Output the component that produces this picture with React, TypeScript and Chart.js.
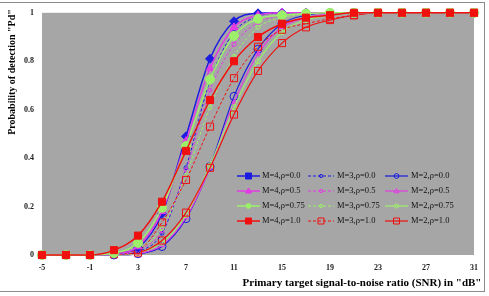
import React, { useEffect, useRef } from "react";
import { Chart, registerables } from "chart.js";

Chart.register(...registerables);

const snr = [-5, -3, -1, 1, 3, 5, 7, 9, 11, 13, 15, 17, 19, 21, 23, 25, 27, 29, 31];

const m4r00 = [0, 0, 0, 0.005, 0.03, 0.17, 0.49, 0.81, 0.965, 0.998, 1, 1, 1, 1, 1, 1, 1, 1, 1];
const m4r05 = [0, 0, 0, 0.005, 0.035, 0.18, 0.47, 0.77, 0.94, 0.99, 1, 1, 1, 1, 1, 1, 1, 1, 1];
const m4r075 = [0, 0, 0, 0.008, 0.05, 0.195, 0.45, 0.725, 0.905, 0.975, 0.99, 0.997, 1, 1, 1, 1, 1, 1, 1];
const m4r10 = [0, 0, 0, 0.02, 0.08, 0.22, 0.43, 0.64, 0.8, 0.9, 0.955, 0.98, 0.99, 1, 1, 1, 1, 1, 1];

const m3r00 = [0, 0, 0, 0.002, 0.015, 0.09, 0.36, 0.72, 0.92, 0.985, 1, 1, 1, 1, 1, 1, 1, 1, 1];
const m3r05 = [0, 0, 0, 0.002, 0.02, 0.1, 0.35, 0.68, 0.87, 0.96, 0.99, 1, 1, 1, 1, 1, 1, 1, 1];
const m3r075 = [0, 0, 0, 0.003, 0.025, 0.11, 0.33, 0.61, 0.82, 0.94, 0.98, 0.995, 1, 1, 1, 1, 1, 1, 1];
const m3r10 = [0, 0, 0, 0.01, 0.02, 0.135, 0.31, 0.53, 0.73, 0.86, 0.93, 0.955, 0.975, 0.99, 1, 1, 1, 1, 1];

const m2r00 = [0, 0, 0, 0, 0.005, 0.035, 0.15, 0.365, 0.655, 0.85, 0.955, 0.99, 1, 1, 1, 1, 1, 1, 1];
const m2r05 = [0, 0, 0, 0, 0.006, 0.04, 0.155, 0.36, 0.63, 0.83, 0.94, 0.98, 0.995, 1, 1, 1, 1, 1, 1];
const m2r075 = [0, 0, 0, 0, 0.008, 0.05, 0.165, 0.37, 0.61, 0.8, 0.92, 0.97, 0.99, 1, 1, 1, 1, 1, 1];
const m2r10 = [0, 0, 0, 0.003, 0.01, 0.06, 0.175, 0.36, 0.58, 0.76, 0.875, 0.94, 0.97, 0.99, 1, 1, 1, 1, 1];

const seriesLabels = [
  "M=4, ρ=0.0", "M=3, ρ=0.0", "M=2, ρ=0.0",
  "M=4, ρ=0.5", "M=3, ρ=0.5", "M=2, ρ=0.5",
  "M=4, ρ=0.75", "M=3, ρ=0.75", "M=2, ρ=0.75",
  "M=4, ρ=1.0", "M=3, ρ=1.0", "M=2, ρ=1.0",
];
const seriesValues = [
  m4r00, m3r00, m2r00,
  m4r05, m3r05, m2r05,
  m4r075, m3r075, m2r075,
  m4r10, m3r10, m2r10,
];

const yTitle = 'Probability of detection "Pd"';
const xTitle = 'Primary target signal-to-noise ratio (SNR) in "dB"';

const SERIF = "'Liberation Serif', 'Times New Roman', serif";
const BLUE = "#1c1ce0";
const MAGENTA = "#e23ce2";
const GREEN = "#9df06a";
const RED = "#f01010";
const colors = [BLUE, MAGENTA, GREEN, RED];

type Style = { shape: string; r: number; filled: boolean; dash: number[]; width: number; order: number };
function styleFor(i: number): Style {
  const m = i % 3; // 0:M=4 1:M=3 2:M=2
  const rho = Math.floor(i / 3);
  if (m === 0) {
    const shapes = ["rectRot", "triangle", "circle", "rect"];
    return { shape: shapes[rho], r: rho === 3 ? 5 : 4.5, filled: true, dash: [], width: 1.5, order: 10 - rho };
  }
  if (m === 1) {
    return { shape: rho === 3 ? "rect" : "circle", r: rho === 3 ? 5 : 2, filled: false, dash: [3, 2], width: 1, order: 20 - rho };
  }
  const shapes2 = ["circle", "triangle", "circle", "rect"];
  return { shape: shapes2[rho], r: rho === 3 ? 5 : rho === 0 ? 4 : 2.5, filled: false, dash: [], width: 1.2, order: 30 - rho };
}

export default function App() {
  const ref = useRef<HTMLCanvasElement | null>(null);
  useEffect(() => {
    if (!ref.current) return;
    const datasets = seriesValues.map((vals, i) => {
      const s = styleFor(i);
      const c = colors[Math.floor(i / 3)];
      return {
        label: seriesLabels[i],
        data: snr.map((x, k) => ({ x, y: vals[k] })),
        borderColor: c,
        backgroundColor: s.filled ? c : "rgba(0,0,0,0)",
        pointBackgroundColor: s.filled ? c : "rgba(0,0,0,0)",
        pointBorderColor: c,
        pointStyle: s.shape,
        pointRadius: s.r,
        pointBorderWidth: 1,
        borderWidth: s.width,
        borderDash: s.dash,
        cubicInterpolationMode: "monotone",
        fill: false,
        clip: false,
        order: s.order,
      };
    });

    const bgPlugin = {
      id: "bg",
      beforeDraw(chart: any) {
        const { ctx, chartArea } = chart;
        ctx.save();
        ctx.fillStyle = "#ffffff";
        ctx.fillRect(0, 0, chart.width, chart.height);
        ctx.strokeStyle = "#8c8c8c";
        ctx.lineWidth = 1;
        ctx.strokeRect(-1, 2.5, 485.5, 289);
        ctx.fillStyle = "#a6a6a6";
        ctx.fillRect(chartArea.left, chartArea.top, chartArea.right - chartArea.left, chartArea.bottom - chartArea.top);
        ctx.restore();
      },
      afterDraw(chart: any) {
        const { ctx } = chart;
        ctx.save();
        ctx.fillStyle = "#000";
        ctx.font = `bold 11px ${SERIF}`;
        ctx.textAlign = "center";
        ctx.textBaseline = "middle";
        ctx.fillText(xTitle, 362, 283);
        ctx.translate(12, 72);
        ctx.rotate(-Math.PI / 2);
        ctx.font = `bold 10px ${SERIF}`;
        ctx.fillText(yTitle, 0, 0);
        ctx.restore();

        // legend
        const cols = [
          { x0: 237, x1: 260, tx: 262 },
          { x0: 308, x1: 334, tx: 337 },
          { x0: 385, x1: 408, tx: 411 },
        ];
        const rows = [176, 191, 206, 221];
        chart.data.datasets.forEach((ds: any, i: number) => {
          const col = cols[i % 3];
          const y = rows[Math.floor(i / 3)];
          ctx.save();
          ctx.strokeStyle = ds.borderColor;
          ctx.lineWidth = ds.borderWidth;
          ctx.setLineDash(ds.borderDash || []);
          ctx.beginPath();
          ctx.moveTo(col.x0, y);
          ctx.lineTo(col.x1, y);
          ctx.stroke();
          ctx.setLineDash([]);
          const cx = (col.x0 + col.x1) / 2;
          const r = Math.min(ds.pointRadius, 3);
          ctx.fillStyle = ds.pointBackgroundColor;
          ctx.strokeStyle = ds.pointBorderColor;
          ctx.lineWidth = 1;
          if (ds.pointStyle === "rect" || ds.pointStyle === "rectRot") {
            ctx.beginPath();
            ctx.rect(cx - r, y - r, 2 * r, 2 * r);
            ctx.fill();
            ctx.stroke();
          } else if (ds.pointStyle === "triangle") {
            ctx.beginPath();
            ctx.moveTo(cx, y - r);
            ctx.lineTo(cx + r, y + r * 0.7);
            ctx.lineTo(cx - r, y + r * 0.7);
            ctx.closePath();
            ctx.fill();
            ctx.stroke();
          } else {
            ctx.beginPath();
            ctx.arc(cx, y, r * 0.8, 0, Math.PI * 2);
            ctx.fill();
            ctx.stroke();
          }
          ctx.fillStyle = "#111";
          ctx.font = `8.5px ${SERIF}`;
          ctx.textAlign = "left";
          ctx.textBaseline = "middle";
          ctx.fillText(ds.label.replace(", ", ","), col.tx, y);
          ctx.restore();
        });
      },
    };

    const chart = new Chart(ref.current, {
      type: "line",
      data: { datasets: datasets as any },
      options: {
        animation: false,
        responsive: false,
        maintainAspectRatio: false,
        layout: { padding: { top: 11, right: 15, left: 0, bottom: 0 } },
        plugins: { legend: { display: false }, tooltip: { enabled: false } },
        scales: {
          x: {
            type: "linear",
            min: -5,
            max: 31,
            afterFit(scale: any) {
              scale.height = 41;
            },
            afterBuildTicks(scale: any) {
              scale.ticks = [-5, -1, 3, 7, 11, 15, 19, 23, 27, 31].map((v) => ({ value: v }));
            },
            grid: { display: false, drawTicks: false },
            border: { display: false },
            ticks: {
              color: "#222",
              font: { family: SERIF, size: 8, weight: "bold" },
              padding: 8,
              maxRotation: 0,
              autoSkip: false,
            },
          },
          y: {
            min: 0,
            max: 1,
            afterFit(scale: any) {
              scale.width = 42;
            },
            grid: { display: false, drawTicks: false },
            border: { display: false },
            ticks: {
              stepSize: 0.2,
              color: "#222",
              font: { family: SERIF, size: 8, weight: "bold" },
              padding: 8,
              callback: (v: any) => String(Math.round(Number(v) * 10) / 10),
            },
          },
        },
      } as any,
      plugins: [bgPlugin],
    });
    return () => chart.destroy();
  }, []);

  return (
    <div style={{ position: "fixed", left: 0, top: 0, width: 489, height: 296 }}>
      <canvas ref={ref} width={489} height={296} style={{ width: 489, height: 296 }} />
    </div>
  );
}
